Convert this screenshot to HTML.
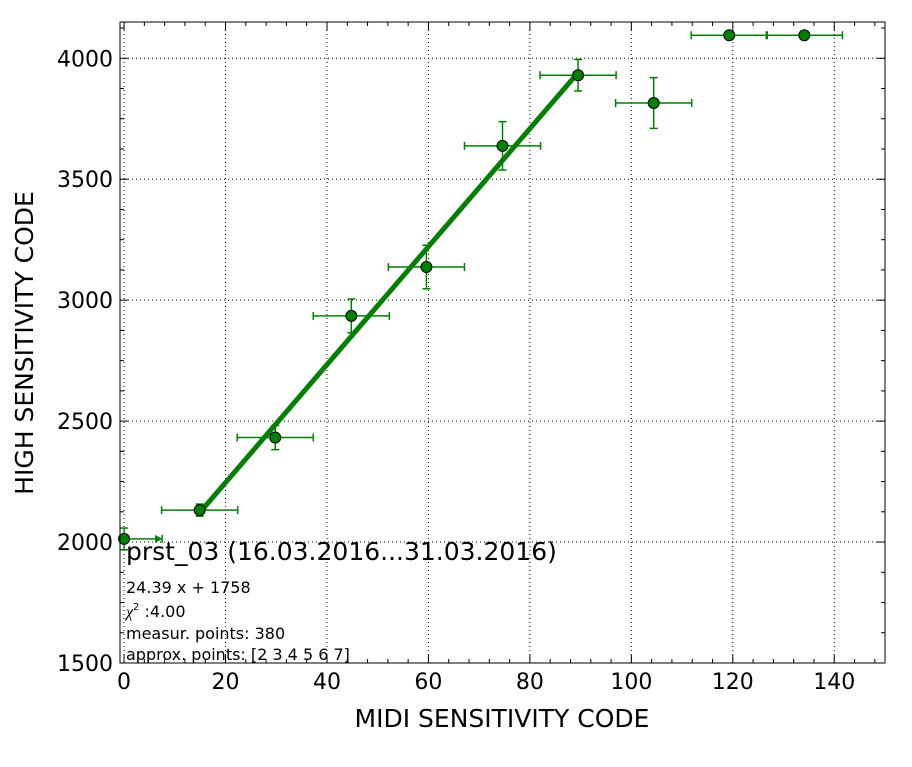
<!DOCTYPE html>
<html><head><meta charset="utf-8"><style>
body{margin:0;background:#fff;font-family:"Liberation Sans","DejaVu Sans",sans-serif}
</style></head><body>
<svg id="chart" width="912" height="762" xmlns="http://www.w3.org/2000/svg">
<rect width="912" height="762" fill="#fff"/>
<g id="grid"></g>
<g id="ticks"></g>
<g id="fit"></g>
<g id="marks"></g>
<rect x="120" y="22" width="765" height="641" fill="none" stroke="#000" stroke-width="1"/>
<text x="502" y="727" font-size="25" text-anchor="middle" font-family="DejaVu Sans,sans-serif">MIDI SENSITIVITY CODE</text>
<text transform="translate(33,343) rotate(-90)" font-size="25" text-anchor="middle" font-family="DejaVu Sans,sans-serif">HIGH SENSITIVITY CODE</text>
<g font-family="DejaVu Sans,sans-serif">
<text x="126" y="560" font-size="25">prst_03 (16.03.2016...31.03.2016)</text>
<text x="126" y="593" font-size="16">24.39 x + 1758</text>
<text x="126" y="617" font-size="16"><tspan font-style="italic" font-family="Liberation Serif,serif">χ</tspan><tspan font-size="10" dy="-7">2</tspan><tspan dy="7"> :4.00</tspan></text>
<text x="126" y="639" font-size="16">measur. points: 380</text>
<text x="126" y="660" font-size="16">approx. points: [2 3 4 5 6 7]</text>
</g>
</svg>
<script>
const xVals=[0,14.9,29.8,44.8,59.6,74.6,89.5,104.4,119.3,134.1];
const yVals=[2013,2132,2432,2935,3137,3638,3930,3815,4095,4095];
const yErr=[45,25,50,70,90,100,65,105,0,0];
const xErr=[7.5,7.5,7.5,7.5,7.5,7.5,7.5,7.5,7.5,7.5];
const fitSlope=24.39, fitIntercept=1758, fitRange=[14.9,89.5];
const xTicks=[0,20,40,60,80,100,120,140];
const yTicks=[1500,2000,2500,3000,3500,4000];
const X0=120,X1=885,Y0=22,Y1=663,xmin=-0.8,xmax=150,ymin=1500,ymax=4150;
const sx=v=>X0+(v-xmin)/(xmax-xmin)*(X1-X0);
const sy=v=>Y1-(v-ymin)/(ymax-ymin)*(Y1-Y0);
const NS='http://www.w3.org/2000/svg';
function mk(p,t,a){const e=document.createElementNS(NS,t);for(const k in a)e.setAttribute(k,a[k]);p.appendChild(e);return e;}
const grid=document.getElementById('grid'),ticks=document.getElementById('ticks'),marks=document.getElementById('marks'),fit=document.getElementById('fit');
xTicks.forEach(t=>{const x=sx(t);
 const g=mk(grid,'line',{x1:x,x2:x,y1:Y0,y2:Y1,stroke:'#000','stroke-width':1,'stroke-dasharray':'1,3'});
 
 
 const l=mk(ticks,'text',{x:x,y:689,'font-size':22,'text-anchor':'middle','font-family':'DejaVu Sans,sans-serif'});l.textContent=t;
 
 
});
for(let t=0;t<=150;t+=4){const x=sx(t);
 mk(ticks,'line',{x1:x,x2:x,y1:Y1,y2:Y1-(t%20==0?8:4),stroke:'#000'});
 mk(ticks,'line',{x1:x,x2:x,y1:Y0,y2:Y0+(t%20==0?8:4),stroke:'#000'});}
yTicks.forEach(t=>{const y=sy(t);
 const g=mk(grid,'line',{x1:X0,x2:X1,y1:y,y2:y,stroke:'#000','stroke-width':1,'stroke-dasharray':'1,3'});
 
 
 const l=mk(ticks,'text',{x:113,y:y+8,'font-size':22,'text-anchor':'end','font-family':'DejaVu Sans,sans-serif'});l.textContent=t;
 
 
});
for(let t=1500;t<=4150;t+=125){const y=sy(t);
 mk(ticks,'line',{x1:X0,x2:X0+(t%500==0?8:4),y1:y,y2:y,stroke:'#000'});
 mk(ticks,'line',{x1:X1,x2:X1-(t%500==0?8:4),y1:y,y2:y,stroke:'#000'});}
const fl=mk(fit,'line',{x1:sx(fitRange[0]),y1:sy(fitSlope*fitRange[0]+fitIntercept),x2:sx(fitRange[1]),y2:sy(fitSlope*fitRange[1]+fitIntercept),stroke:'#008000','stroke-width':5});


const G='#008000';
xVals.forEach((xv,i)=>{
 const x=sx(xv),y=sy(yVals[i]);
 const g=mk(marks,'g',{});
 
 
 const xl=Math.max(sx(xv-xErr[i]),X0),xr=sx(xv+xErr[i]);
 mk(g,'line',{x1:xl,x2:xr,y1:y,y2:y,stroke:G,'stroke-width':1.5});
 if(sx(xv-xErr[i])<X0){mk(g,'path',{d:`M${xr} ${y}l-7 -4v8z`,fill:G});}
 else mk(g,'line',{x1:xl,x2:xl,y1:y-4,y2:y+4,stroke:G,'stroke-width':1.5});
 mk(g,'line',{x1:xr,x2:xr,y1:y-4,y2:y+4,stroke:G,'stroke-width':1.5});
 if(yErr[i]>0){const yt=sy(yVals[i]+yErr[i]),yb=sy(yVals[i]-yErr[i]);
  mk(g,'line',{x1:x,x2:x,y1:yt,y2:yb,stroke:G,'stroke-width':1.5});
  mk(g,'line',{x1:x-4,x2:x+4,y1:yt,y2:yt,stroke:G,'stroke-width':1.5});
  mk(g,'line',{x1:x-4,x2:x+4,y1:yb,y2:yb,stroke:G,'stroke-width':1.5});}
 mk(g,'circle',{cx:x,cy:y,r:5.5,fill:G,stroke:'#000','stroke-width':1});
});
</script>
</body></html>
